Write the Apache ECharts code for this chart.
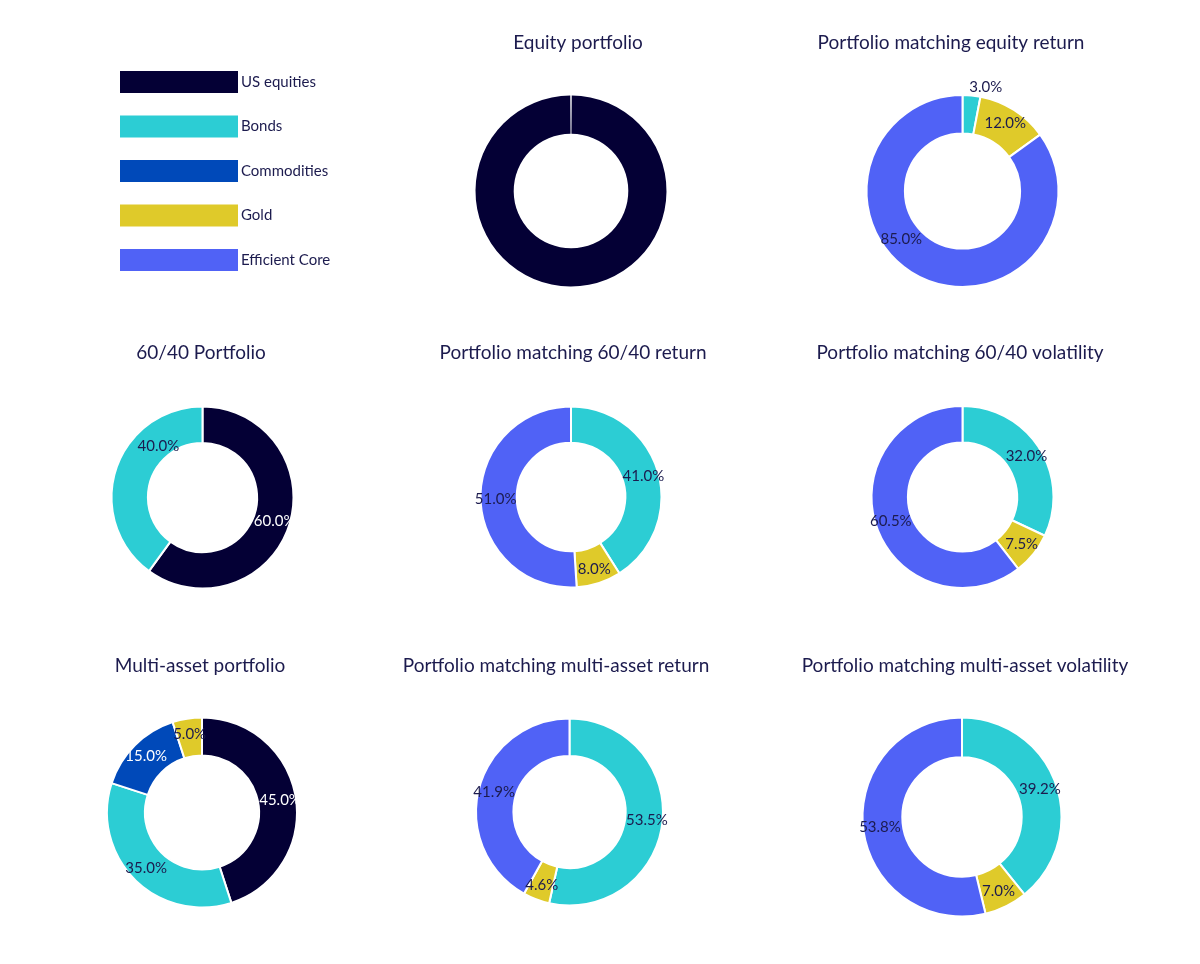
<!DOCTYPE html>
<html>
<head>
<meta charset="utf-8">
<script src="https://cdn.jsdelivr.net/npm/echarts@6/dist/echarts.min.js"></script>
<style>
  html, body { margin: 0; padding: 0; background: #ffffff; }
  #chart { width: 1200px; height: 964px; }
</style>
</head>
<body>
<div id="chart"></div>
<script>
// asset classes, in slice order
const assetNames = ['US equities', 'Bonds', 'Commodities', 'Gold', 'Efficient Core'];

// weights (%) per portfolio, aligned with assetNames
const equityPortfolio = [100, 0, 0, 0, 0];
const equityReturnMatch = [0, 3.0, 0, 12.0, 85.0];
const sixtyFortyPortfolio = [60, 40, 0, 0, 0];
const sixtyFortyReturnMatch = [0, 41.0, 0, 8.0, 51.0];
const sixtyFortyVolMatch = [0, 32.0, 0, 7.5, 60.5];
const multiAssetPortfolio = [45, 35, 15, 5, 0];
const multiAssetReturnMatch = [0, 53.5, 0, 4.6, 41.9];
const multiAssetVolMatch = [0, 39.2, 0, 7.0, 53.8];

const portfolioTitles = [
  'Equity portfolio',
  'Portfolio matching equity return',
  '60/40 Portfolio',
  'Portfolio matching 60/40 return',
  'Portfolio matching 60/40 volatility',
  'Multi-asset portfolio',
  'Portfolio matching multi-asset return',
  'Portfolio matching multi-asset volatility'
];
const portfolioWeights = [
  equityPortfolio, equityReturnMatch,
  sixtyFortyPortfolio, sixtyFortyReturnMatch, sixtyFortyVolMatch,
  multiAssetPortfolio, multiAssetReturnMatch, multiAssetVolMatch
];

// styling
const assetColors = {
  'US equities': '#040035',
  'Bonds': '#2ccdd4',
  'Commodities': '#0049b9',
  'Gold': '#dfca2a',
  'Efficient Core': '#5062f6'
};
const darkText = '#1c1b4e';
const lightAssets = ['Bonds', 'Gold', 'Efficient Core'];
const fontFamily = 'Lato, "Noto Sans", sans-serif';

// layout of each donut: [cx, cy, outer radius], and title centre/top
const donutLayout = [
  [571, 191, 95.5],
  [962.5, 191, 96],
  [202.5, 497.5, 91],
  [571, 497, 90.5],
  [962.5, 497, 91],
  [202, 812.5, 95],
  [569.5, 812, 93.5],
  [962, 817, 99.5]
];
const titleLayout = [
  [578, 33], [951, 33],
  [201, 343], [573, 343], [960, 343],
  [200, 656], [556, 656], [965, 656]
];
// label nudges where the reference places the text away from the mid-angle
// key: 'portfolioIndex:assetName'
const labelNudge = {
  '1:Efficient Core': [-25, -23],
  '2:Bonds': [28, -28]
};

const titles = portfolioTitles.map((t, i) => ({
  text: t,
  left: titleLayout[i][0],
  top: titleLayout[i][1],
  textAlign: 'center',
  padding: 0,
  textStyle: {
    fontFamily: fontFamily,
    fontSize: 19,
    fontWeight: 'normal',
    color: darkText
  }
}));

const series = portfolioWeights.map((weights, i) => {
  const [cx, cy, r] = donutLayout[i];
  const data = [];
  weights.forEach((w, k) => {
    if (!w) return;
    const name = assetNames[k];
    const item = {
      name: name,
      value: w,
      itemStyle: { color: assetColors[name] },
      label: { color: lightAssets.includes(name) ? darkText : '#ffffff' }
    };
    if (w >= 100) {
      item.label.show = false;
    }
    if (w < 4 && i === 1) {
      // too small to fit inside: put it just outside the ring
      item.label.position = 'outside';
      item.label.color = darkText;
      item.labelLine = { show: false, length: 8, length2: -8 };
    }
    const nudge = labelNudge[i + ':' + name];
    if (nudge) {
      item.label.offset = nudge;
    }
    data.push(item);
  });
  return {
    type: 'pie',
    center: [cx, cy],
    radius: [r * 0.6, r],
    startAngle: 90,
    clockwise: true,
    padAngle: weights[0] >= 100 ? 0.9 : 0,
    avoidLabelOverlap: false,
    animation: false,
    silent: true,
    itemStyle: {
      borderColor: '#ffffff',
      borderWidth: weights[0] >= 100 ? 0 : 2
    },
    label: {
      show: true,
      position: 'inside',
      fontFamily: fontFamily,
      fontSize: 15,
      formatter: p => p.value.toFixed(1) + '%'
    },
    labelLine: { show: false },
    data: data
  };
});

const option = {
  backgroundColor: '#ffffff',
  animation: false,
  title: titles,
  legend: {
    orient: 'vertical',
    left: 120,
    top: 71,
    itemWidth: 118,
    itemHeight: 22,
    itemGap: 22.5,
    icon: 'rect',
    selectedMode: false,
    padding: 0,
    itemStyle: { borderWidth: 0 },
    textStyle: {
      fontFamily: fontFamily,
      fontSize: 15,
      color: darkText,
      padding: [0, 0, 0, -2]
    },
    data: assetNames
  },
  series: series
};

var chartDom = document.getElementById('chart');
var myChart = echarts.init(chartDom);
myChart.setOption(option);
</script>
</body>
</html>
